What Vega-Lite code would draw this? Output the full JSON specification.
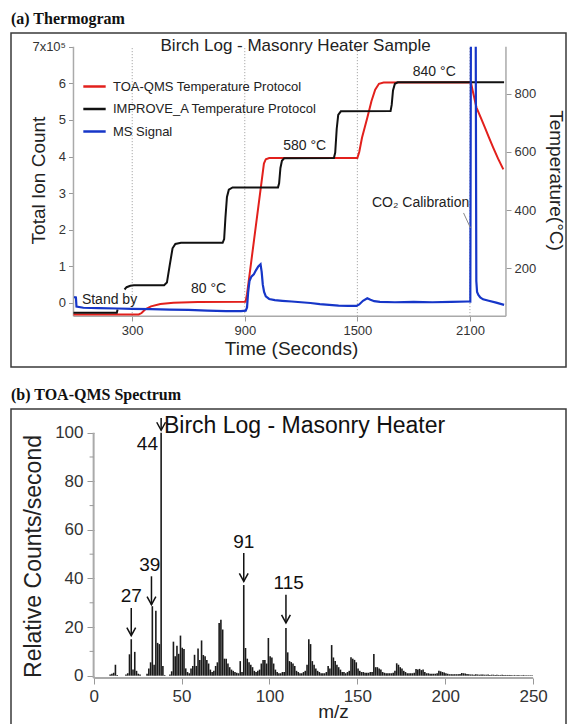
{
"$schema": "https://vega.github.io/schema/vega-lite/v6.json",
"padding": {"left": 10, "top": 10, "right": 0, "bottom": 0},
"spacing": 18,
"config": {
  "font": "Liberation Sans",
  "view": {"stroke": "#3a3a3a", "strokeWidth": 1.5},
  "axis": {"domain": false, "grid": false, "tickColor": "#999", "labelColor": "#333", "titleColor": "#222", "titleFontWeight": "normal", "labelFont": "Liberation Sans", "titleFont": "Liberation Sans"},
  "title": {"font": "Liberation Serif", "fontSize": 16, "fontWeight": "bold", "anchor": "start", "color": "#111", "offset": 6, "frame": "group"}
},
"vconcat": [
{
  "title": {"text": "(a) Thermogram"},
  "width": 555, "height": 334,
  "resolve": {"scale": {"y": "independent"}},
  "layer": [
    {
      "layer": [
        {
          "data": {"values": [{"time": 300}, {"time": 900}, {"time": 1500}, {"time": 2100}]},
          "mark": {"type": "rule", "color": "#999", "strokeWidth": 1, "strokeDash": [1, 2]},
          "encoding": {
            "x": {"field": "time", "type": "quantitative", "scale": {"domain": [-346, 2612], "nice": false, "zero": false},
                  "axis": {"values": [300, 900, 1500, 2100], "format": "d", "offset": -51, "tickSize": 5, "labelFontSize": 13, "labelPadding": 3, "title": "Time (Seconds)", "titleFontSize": 19, "titlePadding": 2, "titleX": 280}},
            "y": {"datum": -0.36, "type": "quantitative", "scale": {"domain": [-1.749, 7.377], "nice": false, "zero": false},
                  "axis": {"orient": "left", "values": [0, 1, 2, 3, 4, 5, 6, 7], "format": "d", "labelExpr": "datum.value == 7 ? '7x10⁵' : datum.label", "offset": -62.5, "tickSize": 5, "labelFontSize": 13, "labelPadding": 3, "title": "Total Ion Count", "titleFontSize": 19, "titleX": -25, "titleY": 147}},
            "y2": {"datum": 7}
          }
        },
        {
          "data": {"values": [
            {"time": -13, "time2": -13, "ion": -0.36, "ion2": 7},
            {"time": -13, "time2": 2292, "ion": -0.36, "ion2": -0.36},
            {"time": 2292, "time2": 2292, "ion": -0.36, "ion2": 7}
          ]},
          "mark": {"type": "rule", "color": "#aaa", "strokeWidth": 1.5},
          "encoding": {
            "x": {"field": "time", "type": "quantitative", "scale": {"domain": [-346, 2612], "nice": false, "zero": false}},
            "x2": {"field": "time2"},
            "y": {"field": "ion", "type": "quantitative"},
            "y2": {"field": "ion2"}
          }
        }
      ]
    },
    {
      "layer": [
        {
          "data": {"values": [
            {"time": -13, "temp": 40}, {"time": 335, "temp": 40}, {"time": 350, "temp": 45}, {"time": 370, "temp": 58}, {"time": 400, "temp": 68}, {"time": 450, "temp": 76}, {"time": 520, "temp": 80}, {"time": 650, "temp": 83}, {"time": 904, "temp": 84}, {"time": 912, "temp": 110}, {"time": 1002, "temp": 560}, {"time": 1012, "temp": 575}, {"time": 1030, "temp": 579}, {"time": 1500, "temp": 579}, {"time": 1510, "temp": 600}, {"time": 1525, "temp": 650}, {"time": 1553, "temp": 718}, {"time": 1575, "temp": 775}, {"time": 1595, "temp": 815}, {"time": 1615, "temp": 835}, {"time": 1640, "temp": 839}, {"time": 2105, "temp": 840}, {"time": 2115, "temp": 810}, {"time": 2135, "temp": 753}, {"time": 2160, "temp": 715}, {"time": 2180, "temp": 684}, {"time": 2200, "temp": 652}, {"time": 2224, "temp": 615}, {"time": 2250, "temp": 577}, {"time": 2278, "temp": 540}
          ]},
          "transform": [{"calculate": "'TOA-QMS Temperature Protocol'", "as": "series"}],
          "mark": {"type": "line", "strokeWidth": 2},
          "encoding": {
            "x": {"field": "time", "type": "quantitative", "scale": {"domain": [-346, 2612], "nice": false, "zero": false}},
            "y": {"field": "temp", "type": "quantitative", "scale": {"domain": [-141, 1010], "nice": false, "zero": false},
                  "axis": {"orient": "right", "values": [200, 400, 600, 800], "format": "d", "offset": -60, "tickSize": 5, "labelFontSize": 13, "labelPadding": 3, "title": "Temperature(°C)", "titleFontSize": 19, "titleX": 39, "titleY": 147}},
            "color": {"field": "series", "type": "nominal",
                      "scale": {"domain": ["TOA-QMS Temperature Protocol", "IMPROVE_A Temperature Protocol", "MS Signal"], "range": ["#e2201c", "#111111", "#1636c8"]},
                      "legend": {"orient": "none", "legendX": 71, "legendY": 41, "title": null, "symbolType": "stroke", "symbolStrokeWidth": 2.5, "symbolSize": 500, "labelFontSize": 13, "labelColor": "#222", "rowPadding": 2.5, "labelOffset": 6, "padding": 0, "labelLimit": 400}}
          }
        },
        {
          "data": {"values": [
            {"time": -13, "temp": 46, "seg": 1}, {"time": 218, "temp": 46, "seg": 1}, {"time": 222, "temp": 57, "seg": 1},
            {"time": 259, "temp": 126, "seg": 2}, {"time": 270, "temp": 134, "seg": 2}, {"time": 290, "temp": 139, "seg": 2}, {"time": 309, "temp": 141, "seg": 2}, {"time": 470, "temp": 141, "seg": 2}, {"time": 485, "temp": 150, "seg": 2}, {"time": 500, "temp": 210, "seg": 2}, {"time": 515, "temp": 268, "seg": 2}, {"time": 530, "temp": 283, "seg": 2}, {"time": 560, "temp": 287, "seg": 2}, {"time": 782, "temp": 287, "seg": 2}, {"time": 790, "temp": 300, "seg": 2}, {"time": 797, "temp": 375, "seg": 2}, {"time": 805, "temp": 445, "seg": 2}, {"time": 815, "temp": 470, "seg": 2}, {"time": 835, "temp": 478, "seg": 2}, {"time": 1077, "temp": 478, "seg": 2}, {"time": 1083, "temp": 492, "seg": 2}, {"time": 1090, "temp": 545, "seg": 2}, {"time": 1098, "temp": 570, "seg": 2}, {"time": 1110, "temp": 578, "seg": 2}, {"time": 1375, "temp": 579, "seg": 2}, {"time": 1382, "temp": 598, "seg": 2}, {"time": 1390, "temp": 680, "seg": 2}, {"time": 1398, "temp": 728, "seg": 2}, {"time": 1412, "temp": 740, "seg": 2}, {"time": 1677, "temp": 741, "seg": 2}, {"time": 1683, "temp": 762, "seg": 2}, {"time": 1690, "temp": 812, "seg": 2}, {"time": 1700, "temp": 835, "seg": 2}, {"time": 1715, "temp": 840, "seg": 2}, {"time": 2282, "temp": 840, "seg": 2}
          ]},
          "transform": [{"calculate": "'IMPROVE_A Temperature Protocol'", "as": "series"}],
          "mark": {"type": "line", "strokeWidth": 2},
          "encoding": {
            "x": {"field": "time", "type": "quantitative", "scale": {"domain": [-346, 2612], "nice": false, "zero": false}},
            "y": {"field": "temp", "type": "quantitative"},
            "color": {"field": "series", "type": "nominal", "legend": null},
            "detail": {"field": "seg"}
          }
        }
      ]
    },
    {
      "layer": [
        {
          "data": {"values": [
            {"time": -10, "ion": 0.16, "seg": 1}, {"time": 0, "ion": 0.15, "seg": 1}, {"time": 3, "ion": -0.1, "seg": 1}, {"time": 40, "ion": -0.13, "seg": 1}, {"time": 120, "ion": -0.14, "seg": 1}, {"time": 220, "ion": -0.15, "seg": 1}, {"time": 300, "ion": -0.16, "seg": 1}, {"time": 400, "ion": -0.17, "seg": 1}, {"time": 500, "ion": -0.18, "seg": 1}, {"time": 600, "ion": -0.19, "seg": 1}, {"time": 700, "ion": -0.21, "seg": 1}, {"time": 800, "ion": -0.22, "seg": 1}, {"time": 880, "ion": -0.22, "seg": 1}, {"time": 905, "ion": -0.21, "seg": 1}, {"time": 912, "ion": -0.12, "seg": 1}, {"time": 918, "ion": 0.3, "seg": 1}, {"time": 925, "ion": 0.6, "seg": 1}, {"time": 935, "ion": 0.72, "seg": 1}, {"time": 948, "ion": 0.78, "seg": 1}, {"time": 960, "ion": 0.9, "seg": 1}, {"time": 972, "ion": 1.0, "seg": 1}, {"time": 984, "ion": 1.06, "seg": 1}, {"time": 990, "ion": 0.85, "seg": 1}, {"time": 996, "ion": 0.5, "seg": 1}, {"time": 1003, "ion": 0.3, "seg": 1}, {"time": 1012, "ion": 0.18, "seg": 1}, {"time": 1030, "ion": 0.11, "seg": 1}, {"time": 1060, "ion": 0.08, "seg": 1}, {"time": 1100, "ion": 0.06, "seg": 1}, {"time": 1150, "ion": 0.04, "seg": 1}, {"time": 1200, "ion": 0.02, "seg": 1}, {"time": 1250, "ion": 0.0, "seg": 1}, {"time": 1300, "ion": -0.03, "seg": 1}, {"time": 1350, "ion": -0.05, "seg": 1}, {"time": 1400, "ion": -0.07, "seg": 1}, {"time": 1450, "ion": -0.08, "seg": 1}, {"time": 1495, "ion": -0.08, "seg": 1}, {"time": 1510, "ion": -0.04, "seg": 1}, {"time": 1530, "ion": 0.06, "seg": 1}, {"time": 1553, "ion": 0.13, "seg": 1}, {"time": 1570, "ion": 0.09, "seg": 1}, {"time": 1590, "ion": 0.05, "seg": 1}, {"time": 1620, "ion": 0.03, "seg": 1}, {"time": 1700, "ion": 0.02, "seg": 1}, {"time": 1800, "ion": 0.03, "seg": 1}, {"time": 1900, "ion": 0.02, "seg": 1}, {"time": 2000, "ion": 0.03, "seg": 1}, {"time": 2090, "ion": 0.04, "seg": 1}, {"time": 2102, "ion": 0.04, "seg": 1}, {"time": 2105, "ion": 7.0, "seg": 1},
            {"time": 2131, "ion": 7.0, "seg": 2}, {"time": 2134, "ion": 0.6, "seg": 2}, {"time": 2138, "ion": 0.3, "seg": 2}, {"time": 2145, "ion": 0.22, "seg": 2}, {"time": 2155, "ion": 0.15, "seg": 2}, {"time": 2170, "ion": 0.1, "seg": 2}, {"time": 2200, "ion": 0.06, "seg": 2}, {"time": 2240, "ion": 0.01, "seg": 2}, {"time": 2282, "ion": -0.05, "seg": 2}
          ]},
          "transform": [{"calculate": "'MS Signal'", "as": "series"}],
          "mark": {"type": "line", "strokeWidth": 2.2},
          "encoding": {
            "x": {"field": "time", "type": "quantitative", "scale": {"domain": [-346, 2612], "nice": false, "zero": false}},
            "y": {"field": "ion", "type": "quantitative", "scale": {"domain": [-1.749, 7.377], "nice": false, "zero": false}, "axis": null},
            "color": {"field": "series", "type": "nominal", "legend": null},
            "detail": {"field": "seg"}
          }
        },
        {
          "data": {"values": [{"time": 1171, "ion": 7.02, "label": "Birch Log - Masonry Heater Sample"}]},
          "mark": {"type": "text", "fontSize": 17, "color": "#222", "align": "center", "baseline": "middle"},
          "encoding": {
            "x": {"field": "time", "type": "quantitative"},
            "y": {"field": "ion", "type": "quantitative", "axis": null},
            "text": {"field": "label"}
          }
        },
        {
          "data": {"values": [
            {"time": 1910, "ion": 6.31, "label": "840 °C"},
            {"time": 1219, "ion": 4.29, "label": "580 °C"},
            {"time": 707, "ion": 0.37, "label": "80 °C"},
            {"time": 179, "ion": 0.08, "label": "Stand by"},
            {"time": 1837, "ion": 2.74, "label": "CO₂ Calibration"}
          ]},
          "mark": {"type": "text", "fontSize": 14, "color": "#222", "align": "center", "baseline": "middle"},
          "encoding": {
            "x": {"field": "time", "type": "quantitative"},
            "y": {"field": "ion", "type": "quantitative", "axis": null},
            "text": {"field": "label"}
          }
        },
        {
          "data": {"values": [{"time": 2066, "time2": 2103, "ion": 2.46, "ion2": 2.05}]},
          "mark": {"type": "rule", "color": "#888", "strokeWidth": 1},
          "encoding": {
            "x": {"field": "time", "type": "quantitative"},
            "x2": {"field": "time2"},
            "y": {"field": "ion", "type": "quantitative", "axis": null},
            "y2": {"field": "ion2"}
          }
        }
      ]
    }
  ]
},
{
  "title": {"text": "(b) TOA-QMS Spectrum"},
  "width": 555, "height": 325,
  "layer": [
    {
      "data": {"values": [{"mz": 0, "mz2": 0, "c": -1, "c2": 100}, {"mz": 0, "mz2": 250, "c": -1, "c2": -1}]},
      "mark": {"type": "rule", "color": "#aaa", "strokeWidth": 2},
      "encoding": {
        "x": {"field": "mz", "type": "quantitative", "scale": {"domain": [-47, 268.7], "nice": false, "zero": false},
              "axis": {"values": [0, 50, 100, 150, 200, 250], "format": "d", "offset": -56, "tickSize": 6, "labelFontSize": 17, "labelPadding": 4, "title": "m/z", "titleFontSize": 19, "titlePadding": -2, "titleX": 322}},
        "x2": {"field": "mz2"},
        "y": {"field": "c", "type": "quantitative", "scale": {"domain": [-24, 109.75], "nice": false, "zero": false},
              "axis": {"values": [0, 20, 40, 60, 80, 100], "format": "d", "offset": -83, "tickSize": 7, "labelFontSize": 17, "labelPadding": 4, "title": "Relative Counts/second", "titleFontSize": 23, "titleX": -49, "titleY": 147}},
        "y2": {"field": "c2"}
      }
    },
    {
      "data": {"values": [{"mz": -2.3, "mz2": 0, "c": 10}, {"mz": -2.3, "mz2": 0, "c": 30}, {"mz": -2.3, "mz2": 0, "c": 50}, {"mz": -2.3, "mz2": 0, "c": 70}, {"mz": -2.3, "mz2": 0, "c": 90}]},
      "mark": {"type": "rule", "color": "#999", "strokeWidth": 1},
      "encoding": {
        "x": {"field": "mz", "type": "quantitative"},
        "x2": {"field": "mz2"},
        "y": {"field": "c", "type": "quantitative"}
      }
    },
    {
      "data": {"values": [
        {"mz": 9.4, "c": 0.5}, {"mz": 10.4, "c": 0.8}, {"mz": 11.4, "c": 1.2}, {"mz": 12.4, "c": 4.5}, {"mz": 13.4, "c": 0.3},
        {"mz": 18.4, "c": 0.5}, {"mz": 19.4, "c": 1}, {"mz": 20.4, "c": 8.8}, {"mz": 21.4, "c": 15}, {"mz": 22.4, "c": 2.5}, {"mz": 23.4, "c": 9.8}, {"mz": 24.4, "c": 2}, {"mz": 25.4, "c": 0.8}, {"mz": 26.4, "c": 0.5},
        {"mz": 30.4, "c": 0.8}, {"mz": 31.4, "c": 3}, {"mz": 32.4, "c": 5.5}, {"mz": 33.4, "c": 28.6}, {"mz": 34.4, "c": 4.5}, {"mz": 35.4, "c": 26.7}, {"mz": 36.4, "c": 13.5}, {"mz": 37.4, "c": 13}, {"mz": 38.4, "c": 100}, {"mz": 39.4, "c": 4}, {"mz": 40.4, "c": 0.3},
        {"mz": 43.4, "c": 0.5}, {"mz": 44.4, "c": 1.8}, {"mz": 45.4, "c": 14}, {"mz": 46.4, "c": 8}, {"mz": 47.4, "c": 12.3}, {"mz": 48.4, "c": 9}, {"mz": 49.4, "c": 16.5}, {"mz": 50.4, "c": 11.5}, {"mz": 51.4, "c": 11}, {"mz": 52.4, "c": 3}, {"mz": 53.4, "c": 1.5},
        {"mz": 54.4, "c": 1}, {"mz": 55.4, "c": 3}, {"mz": 56.4, "c": 4}, {"mz": 57.4, "c": 8.6}, {"mz": 58.4, "c": 4}, {"mz": 59.4, "c": 11.2}, {"mz": 60.4, "c": 6.5}, {"mz": 61.4, "c": 14.5}, {"mz": 62.4, "c": 8.5}, {"mz": 63.4, "c": 8}, {"mz": 64.4, "c": 6.5}, {"mz": 65.4, "c": 5}, {"mz": 66.4, "c": 2.5}, {"mz": 67.4, "c": 1.5},
        {"mz": 68.4, "c": 2}, {"mz": 69.4, "c": 4}, {"mz": 70.4, "c": 5.5}, {"mz": 71.4, "c": 21.7}, {"mz": 72.4, "c": 23}, {"mz": 73.4, "c": 19}, {"mz": 74.4, "c": 7}, {"mz": 75.4, "c": 7}, {"mz": 76.4, "c": 5}, {"mz": 77.4, "c": 3.5}, {"mz": 78.4, "c": 2.5}, {"mz": 79.4, "c": 2}, {"mz": 80.4, "c": 1.5}, {"mz": 81.4, "c": 1.2}, {"mz": 82.4, "c": 1},
        {"mz": 83.4, "c": 6}, {"mz": 84.4, "c": 1.5}, {"mz": 85.4, "c": 37.3}, {"mz": 86.4, "c": 11.4}, {"mz": 87.4, "c": 7}, {"mz": 88.4, "c": 5.5}, {"mz": 89.4, "c": 4.5}, {"mz": 90.4, "c": 3.5}, {"mz": 91.4, "c": 2}, {"mz": 92.4, "c": 1.5},
        {"mz": 93.4, "c": 2}, {"mz": 94.4, "c": 2.5}, {"mz": 95.4, "c": 5}, {"mz": 96.4, "c": 6.5}, {"mz": 97.4, "c": 6.5}, {"mz": 98.4, "c": 5}, {"mz": 99.4, "c": 15.5}, {"mz": 100.4, "c": 8}, {"mz": 101.4, "c": 7.5}, {"mz": 102.4, "c": 5}, {"mz": 103.4, "c": 2.5}, {"mz": 104.4, "c": 1.5}, {"mz": 105.4, "c": 1}, {"mz": 106.4, "c": 1},
        {"mz": 107.4, "c": 1.5}, {"mz": 108.4, "c": 1.5}, {"mz": 109.4, "c": 19.6}, {"mz": 110.4, "c": 9.6}, {"mz": 111.4, "c": 6}, {"mz": 112.4, "c": 5.6}, {"mz": 113.4, "c": 5}, {"mz": 114.4, "c": 4}, {"mz": 115.4, "c": 2}, {"mz": 116.4, "c": 1.5}, {"mz": 117.4, "c": 1}, {"mz": 118.4, "c": 1},
        {"mz": 119.4, "c": 1.5}, {"mz": 120.4, "c": 2}, {"mz": 121.4, "c": 4.5}, {"mz": 122.4, "c": 15}, {"mz": 123.4, "c": 13}, {"mz": 124.4, "c": 6}, {"mz": 125.4, "c": 4.5}, {"mz": 126.4, "c": 3}, {"mz": 127.4, "c": 2}, {"mz": 128.4, "c": 1.5}, {"mz": 129.4, "c": 1}, {"mz": 130.4, "c": 1}, {"mz": 131.4, "c": 1},
        {"mz": 132.4, "c": 1.5}, {"mz": 133.4, "c": 4}, {"mz": 134.4, "c": 3}, {"mz": 135.4, "c": 12.6}, {"mz": 136.4, "c": 7.5}, {"mz": 137.4, "c": 6}, {"mz": 138.4, "c": 4.5}, {"mz": 139.4, "c": 3.5}, {"mz": 140.4, "c": 2.5}, {"mz": 141.4, "c": 1.5}, {"mz": 142.4, "c": 1.5}, {"mz": 143.4, "c": 1},
        {"mz": 144.4, "c": 1.5}, {"mz": 145.4, "c": 2}, {"mz": 146.4, "c": 7.6}, {"mz": 147.4, "c": 7}, {"mz": 148.4, "c": 6.5}, {"mz": 149.4, "c": 5.5}, {"mz": 150.4, "c": 3}, {"mz": 151.4, "c": 2}, {"mz": 152.4, "c": 1.5}, {"mz": 153.4, "c": 1.5}, {"mz": 154.4, "c": 1.2}, {"mz": 155.4, "c": 1.2}, {"mz": 156.4, "c": 1.2},
        {"mz": 157.4, "c": 1.5}, {"mz": 158.4, "c": 1.5}, {"mz": 159.4, "c": 8.9}, {"mz": 160.4, "c": 3.5}, {"mz": 161.4, "c": 3.5}, {"mz": 162.4, "c": 3}, {"mz": 163.4, "c": 2.5}, {"mz": 164.4, "c": 1.5}, {"mz": 165.4, "c": 1.2}, {"mz": 166.4, "c": 1}, {"mz": 167.4, "c": 1}, {"mz": 168.4, "c": 1}, {"mz": 169.4, "c": 1},
        {"mz": 170.4, "c": 1.2}, {"mz": 171.4, "c": 2}, {"mz": 172.4, "c": 5.1}, {"mz": 173.4, "c": 4.5}, {"mz": 174.4, "c": 3.5}, {"mz": 175.4, "c": 3}, {"mz": 176.4, "c": 2}, {"mz": 177.4, "c": 1.5}, {"mz": 178.4, "c": 1}, {"mz": 179.4, "c": 1}, {"mz": 180.4, "c": 1}, {"mz": 181.4, "c": 1},
        {"mz": 182.4, "c": 1.2}, {"mz": 183.4, "c": 2.8}, {"mz": 184.4, "c": 2.5}, {"mz": 185.4, "c": 2.8}, {"mz": 186.4, "c": 2.3}, {"mz": 187.4, "c": 2.5}, {"mz": 188.4, "c": 1.5}, {"mz": 189.4, "c": 1}, {"mz": 190.4, "c": 1}, {"mz": 191.4, "c": 0.8}, {"mz": 192.4, "c": 0.8}, {"mz": 193.4, "c": 0.8}, {"mz": 194.4, "c": 0.8},
        {"mz": 195.4, "c": 1}, {"mz": 196.4, "c": 2}, {"mz": 197.4, "c": 1.8}, {"mz": 198.4, "c": 1.5}, {"mz": 199.4, "c": 1.3}, {"mz": 200.4, "c": 1}, {"mz": 201.4, "c": 0.8}, {"mz": 202.4, "c": 0.6}, {"mz": 203.4, "c": 0.6}, {"mz": 204.4, "c": 0.6}, {"mz": 205.4, "c": 0.6}, {"mz": 206.4, "c": 0.6}, {"mz": 207.4, "c": 0.6},
        {"mz": 208.4, "c": 0.7}, {"mz": 209.4, "c": 1.1}, {"mz": 210.4, "c": 1}, {"mz": 211.4, "c": 0.9}, {"mz": 212.4, "c": 0.7}, {"mz": 213.4, "c": 0.6}, {"mz": 214.4, "c": 0.5},
        {"mz": 215.4, "c": 0.5}, {"mz": 216.4, "c": 0.4}, {"mz": 217.4, "c": 0.6}, {"mz": 218.4, "c": 0.5}, {"mz": 219.4, "c": 0.4}, {"mz": 220.4, "c": 0.5}, {"mz": 221.4, "c": 0.5}, {"mz": 222.4, "c": 0.4}, {"mz": 223.4, "c": 0.4}, {"mz": 224.4, "c": 0.5}, {"mz": 225.4, "c": 0.3}, {"mz": 226.4, "c": 0.4},
        {"mz": 227.4, "c": 0.4}, {"mz": 228.4, "c": 0.3}, {"mz": 229.4, "c": 0.4}, {"mz": 230.4, "c": 0.3}, {"mz": 231.4, "c": 0.3}, {"mz": 232.4, "c": 0.4}, {"mz": 233.4, "c": 0.3}, {"mz": 234.4, "c": 0.3}, {"mz": 235.4, "c": 0.3}, {"mz": 236.4, "c": 0.3}, {"mz": 237.4, "c": 0.3}, {"mz": 238.4, "c": 0.2},
        {"mz": 239.4, "c": 0.3}, {"mz": 240.4, "c": 0.2}, {"mz": 241.4, "c": 0.3}, {"mz": 242.4, "c": 0.2}, {"mz": 243.4, "c": 0.2}, {"mz": 244.4, "c": 0.3}, {"mz": 245.4, "c": 0.2}, {"mz": 246.4, "c": 0.2}, {"mz": 247.4, "c": 0.2}, {"mz": 248.4, "c": 0.2}, {"mz": 249.4, "c": 0.2}
      ]},
      "mark": {"type": "rule", "color": "#1a1a1a", "strokeWidth": 1.6},
      "encoding": {
        "x": {"field": "mz", "type": "quantitative"},
        "y": {"field": "c", "type": "quantitative"},
        "y2": {"datum": 0}
      }
    },
    {
      "data": {"values": [
        {"mz": 21.4, "c": 27.9, "tip": 16.5},
        {"mz": 32.9, "c": 40.9, "tip": 29.2},
        {"mz": 38.4, "c": 106, "tip": 101},
        {"mz": 85.4, "c": 50.5, "tip": 38.8},
        {"mz": 109.4, "c": 33.3, "tip": 21.7}
      ]},
      "layer": [
        {
          "mark": {"type": "rule", "color": "#111", "strokeWidth": 1.5},
          "encoding": {
            "x": {"field": "mz", "type": "quantitative"},
            "y": {"field": "c", "type": "quantitative"},
            "y2": {"field": "tip"}
          }
        },
        {
          "mark": {"type": "point", "shape": "M-0.55,-1L0,0L0.55,-1", "filled": false, "size": 256, "strokeWidth": 1.5, "color": "#111", "opacity": 1},
          "encoding": {
            "x": {"field": "mz", "type": "quantitative"},
            "y": {"field": "tip", "type": "quantitative"}
          }
        }
      ]
    },
    {
      "data": {"values": [
        {"mz": 21.4, "c": 32.7, "label": "27"},
        {"mz": 31.9, "c": 45.5, "label": "39"},
        {"mz": 30.6, "c": 95.3, "label": "44"},
        {"mz": 85.4, "c": 55, "label": "91"},
        {"mz": 111, "c": 38.1, "label": "115"}
      ]},
      "mark": {"type": "text", "fontSize": 19, "color": "#111", "align": "center", "baseline": "middle"},
      "encoding": {
        "x": {"field": "mz", "type": "quantitative"},
        "y": {"field": "c", "type": "quantitative"},
        "text": {"field": "label"}
      }
    },
    {
      "data": {"values": [{"mz": 40, "c": 102.8, "label": "Birch Log - Masonry Heater"}]},
      "mark": {"type": "text", "fontSize": 23, "color": "#111", "align": "left", "baseline": "middle"},
      "encoding": {
        "x": {"field": "mz", "type": "quantitative"},
        "y": {"field": "c", "type": "quantitative"},
        "text": {"field": "label"}
      }
    }
  ]
}
]
}
